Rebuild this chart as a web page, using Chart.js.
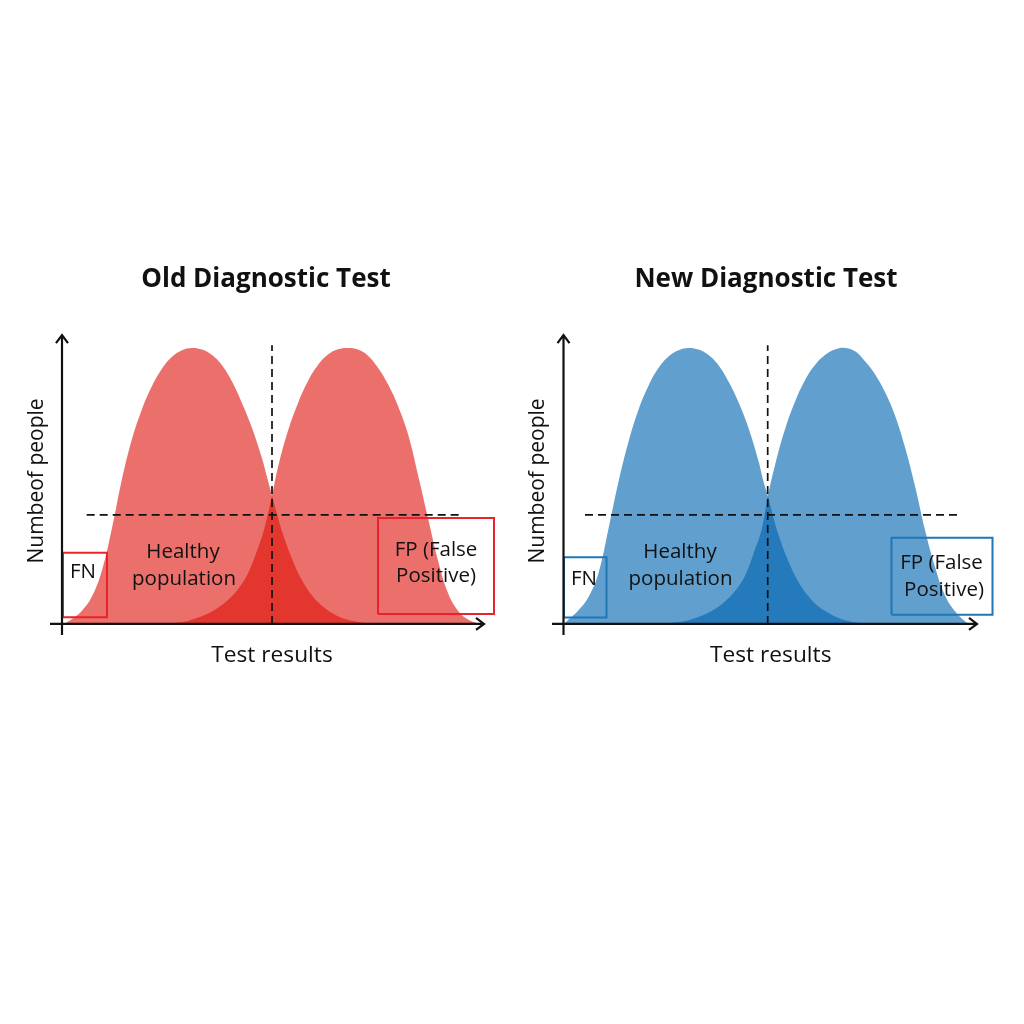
<!DOCTYPE html>
<html>
<head>
<meta charset="utf-8">
<title>Diagnostic tests</title>
<script src="https://cdn.jsdelivr.net/npm/chart.js@4"></script>
<style>
    html, body { margin: 0; background: #fff; }
    canvas { position: absolute; }
</style>
</head>
<body>
<canvas id="oldTest" width="512" height="433" style="left:0;top:247px"></canvas>
<canvas id="newTest" width="512" height="433" style="left:512px;top:247px"></canvas>
<script>
// values (x = test result, y = % of peak height)
const oldHealthyX = [2,10,20,30,40,50,60,70,80,90,100,110,120,130,140,150,160,170,180,190,200,205,210,215,220,230,240,250,260,270,280,290,300,315];
const oldHealthyY = [0,1.8,4.8,10,19.5,34.8,52.5,67,77.8,86.2,92.5,96.8,99.2,100,99.4,97.4,93.7,87.8,80,71,60,53.2,46.5,39.8,33.6,23.6,15.8,10.3,6.6,4,2.2,1.2,0.5,0];
const oldDiseasedX = [86,106,116,126,136,146,156,166,176,186,196,203,210,216,226,236,246,256,266,276,286,296,306,316,326,336,346,356,366,376,386,396,406,416];
const oldDiseasedY = [0,0.2,0.5,1.1,2.3,3.8,5.9,8.7,12.6,18.4,27.5,35.5,46.5,56.8,70,80,88,93.8,97.6,99.5,100,99.4,97.2,92.8,86.8,79,68.8,54,38.4,23,11.2,4.8,1.6,0.2];

const newHealthyX = [1.5,5,15,25,35,45,55,65,75,85,95,105,115,125,135,145,155,165,175,185,195,200,204.5,210,215,225,235,245,255,265,275,285,295,307];
const newHealthyY = [0.4,1.6,5,9.8,18.5,34.5,51.5,66,77.6,86.3,92.7,96.9,99.2,100,99.4,97.4,93.7,87.8,80.3,71,59,51.6,46.2,38.5,32.3,22.6,15.2,10,6.3,4,2.2,1.1,0.4,0];
const newDiseasedX = [86.5,101.5,111.5,121.5,131.5,141.5,151.5,161.5,171.5,181.5,191.5,198,204.5,211.5,221.5,231.5,241.5,251.5,261.5,271.5,281.5,291.5,301.5,311.5,321.5,331.5,341.5,351.5,361.5,371.5,381.5,391.5,401.5,406.5];
const newDiseasedY = [0,0.2,0.5,1.1,2.1,3.5,5.4,8.1,11.9,17.5,27,34,46.5,57.5,70.5,80.5,88.3,93.8,97.4,99.4,100,98.8,95.2,90.5,84,75.5,64,50,34,20.6,10.3,4.6,1,0];

// cut-off lines: [x, top of line] and [x start, x end, y]
const oldCutV = [210, 101];
const oldCutH = [24.7, 400, 39.5];
const newCutV = [204.2, 101];
const newCutH = [21.5, 398, 39.5];

// boxes: [x1, x2, y1, y2]
const oldFnBox = [1, 45, 2.4, 25.8];
const oldFpBox = [316, 432, 3.6, 38.4];
const newFnBox = [0.5, 43, 2.3, 24.2];
const newFpBox = [328, 429, 3.3, 31.2];

// text inside the panels: [text, x, y]
const oldLabels = [["Healthy",121,26],["population",122,16.4],["FN",21,18.6],["FP (False",374,26.6],["Positive)",374,17.2]];
const newLabels = [["Healthy",116.5,26],["population",117,16.4],["FN",20.5,16.4],["FP (False",378,21.9],["Positive)",380.5,12.4]];

const yTitle = "Numbeof people";
const xTitle = "Test results";
const FONT = "'Open Sans', sans-serif";

function toPoints(xs, ys) {
    return xs.map((x, i) => ({ x: x, y: ys[i] }));
}

function area(xs, ys, color) {
    return { data: toPoints(xs, ys), backgroundColor: color, borderWidth: 0, fill: "origin", pointRadius: 0, tension: 0.4, order: 3 };
}

function dashed(points) {
    return { data: points, borderColor: "#111", borderWidth: 1.7, borderDash: [8, 5], pointRadius: 0, fill: false, order: 2 };
}

function box(b, color) {
    let pts = [{x:b[0],y:b[2]},{x:b[1],y:b[2]},{x:b[1],y:b[3]},{x:b[0],y:b[3]},{x:b[0],y:b[2]}];
    return { data: pts, borderColor: color, borderWidth: 2, pointRadius: 0, fill: false, clip: false, order: 1 };
}

// axis tails and arrow heads, and the text labels
const extras = {
    id: "extras",
    afterDatasetsDraw(chart, args, opts) {
        const ctx = chart.ctx, sx = chart.scales.x, sy = chart.scales.y;
        const x0 = sx.getPixelForValue(0), y0 = sy.getPixelForValue(0);
        const tipX = sx.getPixelForValue(opts.xTip), tipY = sy.getPixelForValue(opts.yTip);
        ctx.save();
        ctx.strokeStyle = "#111";
        ctx.fillStyle = "#111";
        ctx.lineWidth = 2.2;
        ctx.beginPath();
        ctx.moveTo(sx.getPixelForValue(opts.xTail), y0); ctx.lineTo(tipX - 1, y0);
        ctx.moveTo(x0, sy.getPixelForValue(opts.yTail)); ctx.lineTo(x0, tipY + 1);
        ctx.moveTo(tipX - 9, y0 - 6); ctx.lineTo(tipX - 1, y0); ctx.lineTo(tipX - 9, y0 + 6);
        ctx.moveTo(x0 - 6, tipY + 9); ctx.lineTo(x0, tipY + 1); ctx.lineTo(x0 + 6, tipY + 9);
        ctx.stroke();
        ctx.font = "20.5px " + FONT;
        ctx.textAlign = "center";
        ctx.textBaseline = "middle";
        opts.labels.forEach(l => ctx.fillText(l[0], sx.getPixelForValue(l[1]), sy.getPixelForValue(l[2])));
        ctx.restore();
    },
    afterLayout(chart, args, opts) {
        // heading sits away from the centre of the canvas
        chart.titleBlock.left += opts.titleShift;
        chart.titleBlock.right += opts.titleShift;
    }
};

function makePanel(id, cfg) {
    return new Chart(document.getElementById(id), {
        type: "line",
        data: {
            datasets: [
                area(cfg.healthyX, cfg.healthyY, cfg.fill),
                area(cfg.diseasedX, cfg.diseasedY, cfg.fill),
                dashed([{x:cfg.cutV[0],y:0},{x:cfg.cutV[0],y:cfg.cutV[1]}]),
                dashed([{x:cfg.cutH[0],y:cfg.cutH[2]},{x:cfg.cutH[1],y:cfg.cutH[2]}]),
                box(cfg.fnBox, cfg.line),
                box(cfg.fpBox, cfg.line)
            ]
        },
        plugins: [extras],
        options: {
            responsive: false,
            animation: false,
            layout: { padding: { right: cfg.padRight } },
            scales: {
                x: {
                    type: "linear", min: 0, max: cfg.xMax,
                    grid: { display: false, drawTicks: false },
                    ticks: { display: false },
                    border: { display: false },
                    title: { display: true, text: xTitle, color: "#111", font: { family: FONT, size: 22.7 }, padding: { top: 18.4, bottom: 10.4 } }
                },
                y: {
                    min: 0, max: 103.6,
                    grid: { display: false, drawTicks: false },
                    ticks: { display: false },
                    border: { display: false },
                    title: { display: true, text: yTitle, color: "#111", font: { family: FONT, size: 21 }, padding: cfg.yPad }
                }
            },
            plugins: {
                legend: { display: false },
                tooltip: { enabled: false },
                title: {
                    display: true, text: cfg.title, color: "#111",
                    font: { family: FONT, size: 26, weight: "bold" },
                    padding: { top: 16.9, bottom: 42.9 }
                },
                extras: { labels: cfg.labels, xTail: cfg.xTail, yTail: -4, xTip: cfg.xTip, yTip: 105, titleShift: cfg.titleShift }
            }
        }
    });
}

makePanel("oldTest", {
    title: "Old Diagnostic Test",
    healthyX: oldHealthyX, healthyY: oldHealthyY, diseasedX: oldDiseasedX, diseasedY: oldDiseasedY,
    cutV: oldCutV, cutH: oldCutH, fnBox: oldFnBox, fpBox: oldFpBox, labels: oldLabels,
    fill: "rgba(222,15,7,0.595)", line: "#E8232B",
    xMax: 420, xTail: -12, xTip: 423, titleShift: 25, padRight: 30,
    yPad: { top: 24.4, bottom: 12.4 }
});

makePanel("newTest", {
    title: "New Diagnostic Test",
    healthyX: newHealthyX, healthyY: newHealthyY, diseasedX: newDiseasedX, diseasedY: newDiseasedY,
    cutV: newCutV, cutH: newCutH, fnBox: newFnBox, fpBox: newFpBox, labels: newLabels,
    fill: "rgba(0,100,176,0.62)", line: "#1F77B4",
    xMax: 414.5, xTail: -11.5, xTip: 414.5, titleShift: 21, padRight: 46,
    yPad: { top: 13.4, bottom: 12.9 }
});
</script>
</body>
</html>
